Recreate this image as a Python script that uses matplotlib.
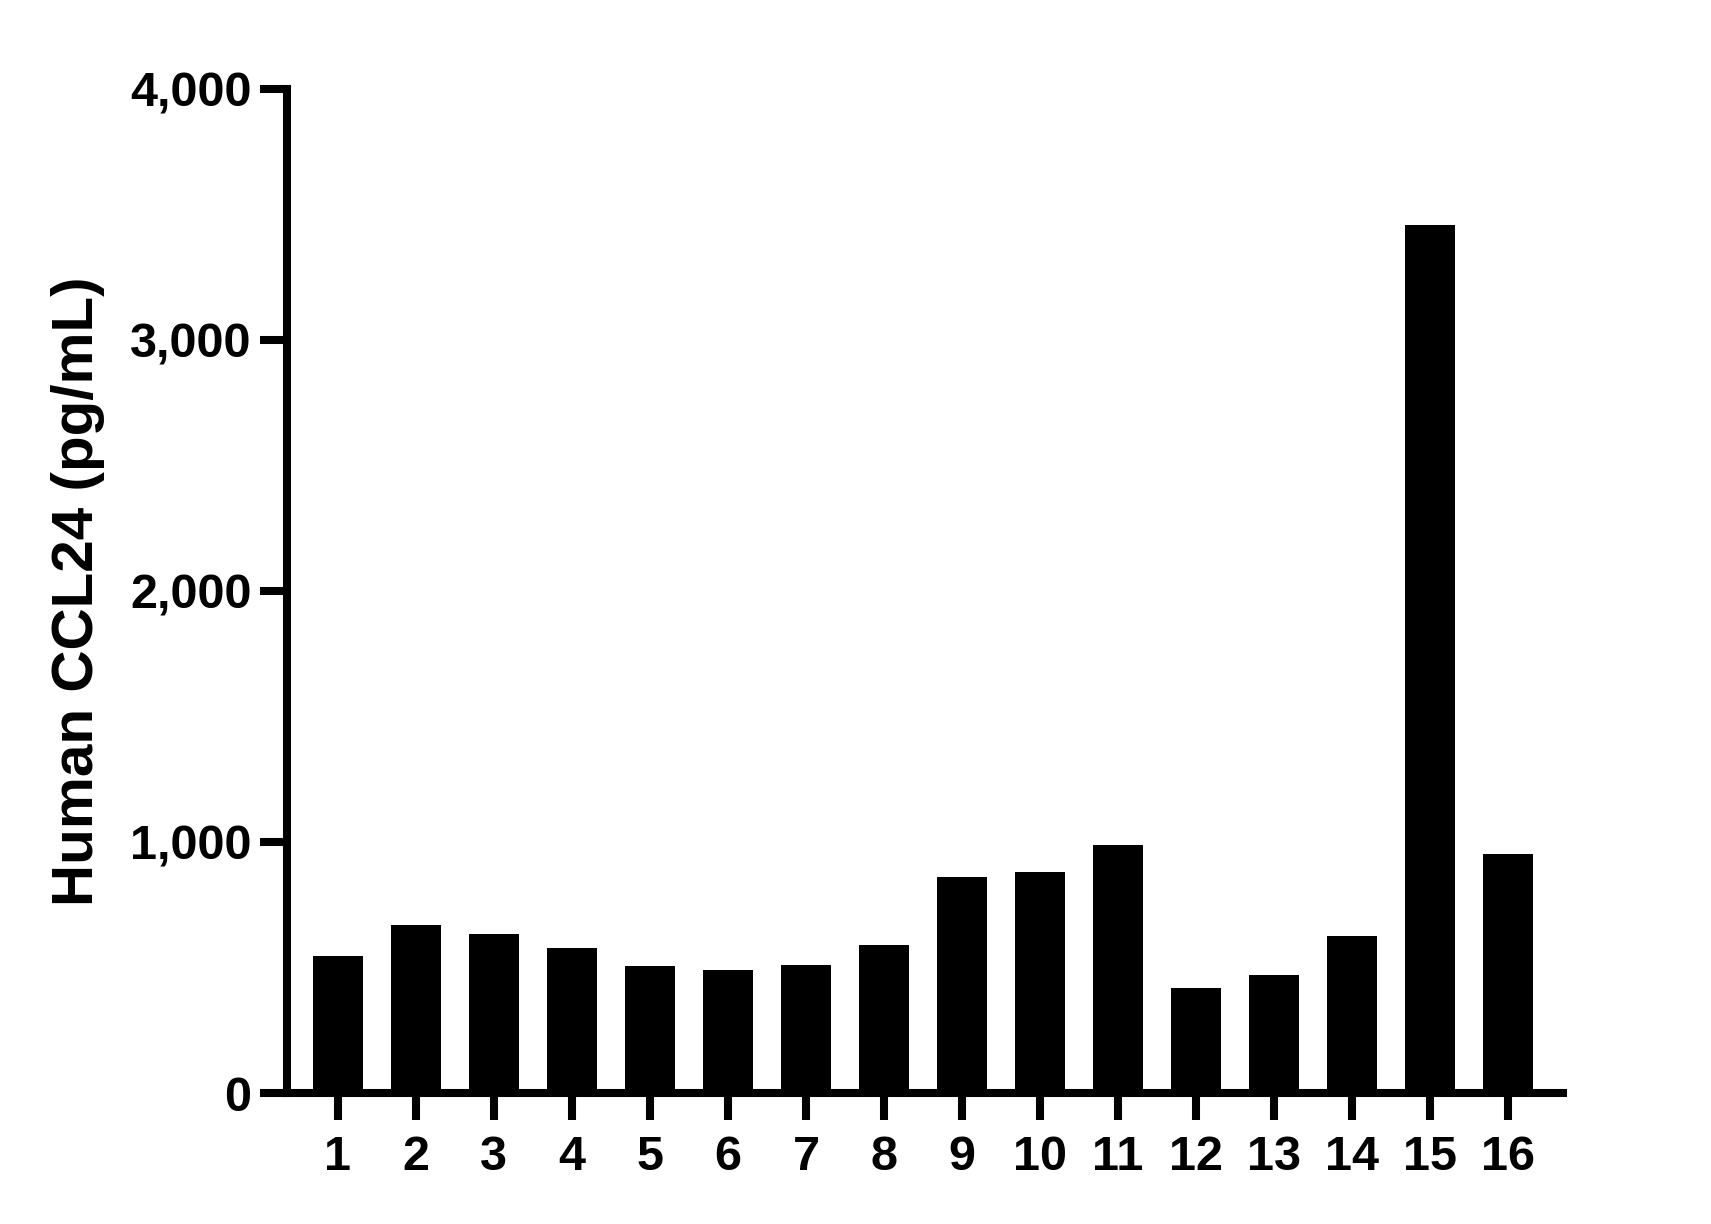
import matplotlib.pyplot as plt
from matplotlib.ticker import FuncFormatter

# -----------------------------------------------------
# Data
# -----------------------------------------------------

samples = [str(i) for i in range(1, 17)]
ccl24 = [547, 671, 635, 579, 507, 491, 511, 591,
         859, 879, 987, 419, 471, 627, 3460, 951]
y_ticks = [0, 1000, 2000, 3000, 4000]

plt.rcParams["font.family"] = ["Liberation Sans", "DejaVu Sans"]
plt.rcParams["font.weight"] = "bold"

fig = plt.figure(figsize=(17.11, 12.24), dpi=100)
ax = fig.add_axes([0.1677, 0.1070, 0.7458, 0.8203])

x = list(range(1, len(samples) + 1))
ax.bar(x, ccl24, width=0.64, color="black", zorder=2)

ax.set_xlim(0.35, 16.7)
ax.set_ylim(0, 4000)
ax.set_xticks(x)
ax.set_xticklabels(samples)
ax.set_yticks(y_ticks)
ax.yaxis.set_major_formatter(FuncFormatter(lambda v, p: f"{int(v):,}"))

for side in ["top", "right"]:
    ax.spines[side].set_visible(False)
for side in ["left", "bottom"]:
    ax.spines[side].set_linewidth(5.8)
    ax.spines[side].set_capstyle("projecting")
    ax.spines[side].set_zorder(3)

ax.tick_params(axis="both", direction="out", length=19.5, width=5.8,
               color="black", labelsize=35)
ax.tick_params(axis="y", pad=6)
ax.tick_params(axis="x", pad=11, labelsize=35)
for lab in ax.get_xticklabels() + ax.get_yticklabels():
    lab.set_fontweight("bold")

ax.set_ylabel("Human CCL24 (pg/mL)", fontsize=42, fontweight="bold",
              labelpad=18)

fig.savefig("out.png", dpi=100, facecolor="white")
